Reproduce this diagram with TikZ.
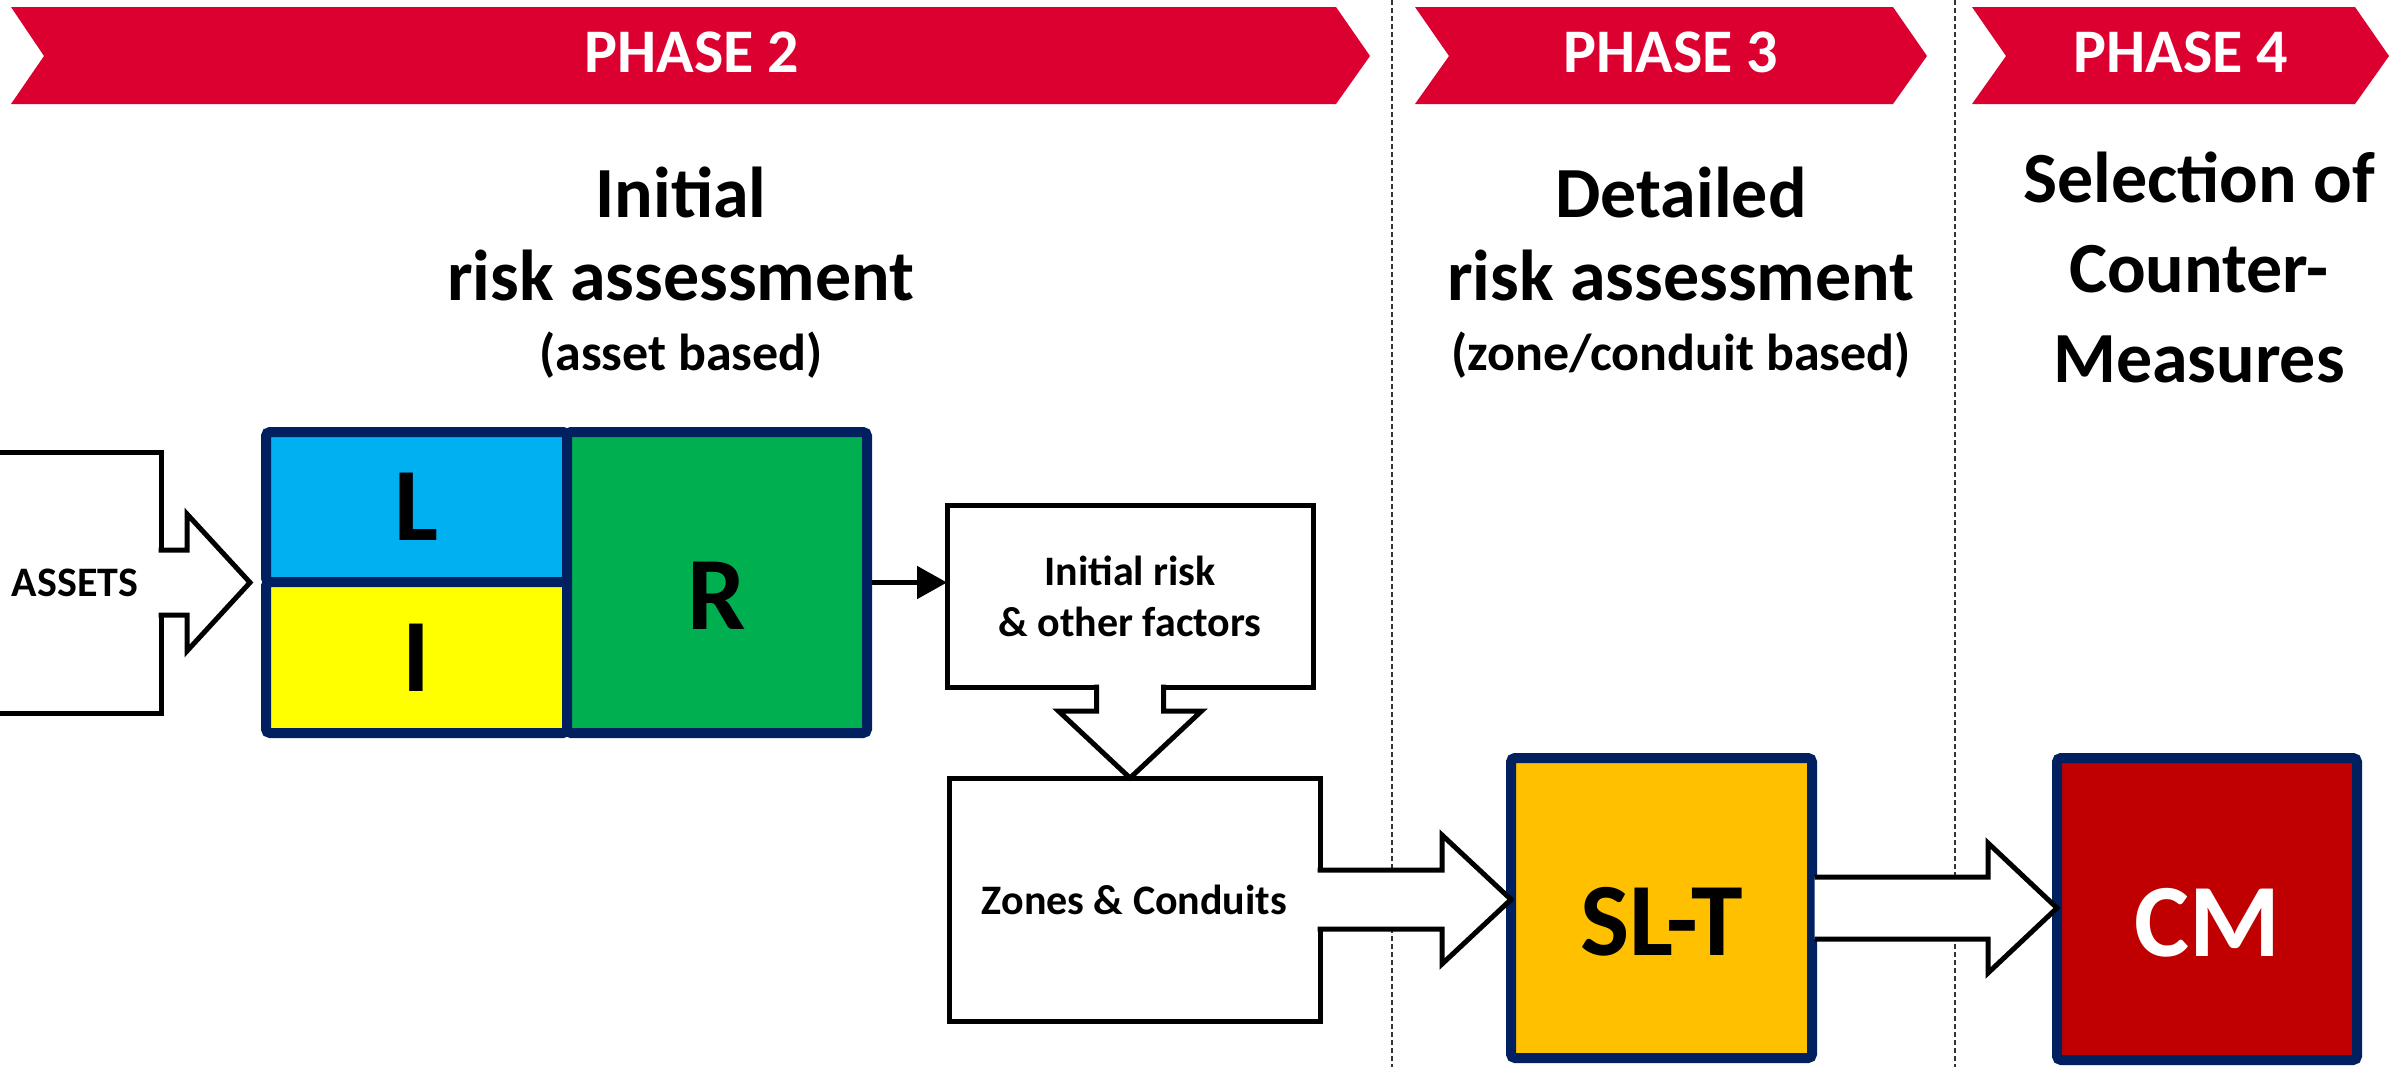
\documentclass[tikz,border=0pt]{standalone}
\usepackage{fontspec}
\setmainfont{Carlito}
\usetikzlibrary{calc,arrows.meta}
\definecolor{bannerred}{RGB}{220,0,48}
\definecolor{navyb}{RGB}{0,32,96}
\definecolor{lcyan}{RGB}{0,176,240}
\definecolor{lyell}{RGB}{255,255,0}
\definecolor{lgreen}{RGB}{0,176,80}
\definecolor{lorange}{RGB}{255,192,0}
\definecolor{ldred}{RGB}{192,0,0}
\newcommand\lblfnt{\fontsize{21}{25.5}\selectfont\bfseries}
\newcommand\bigfnt{\fontsize{52}{60}\selectfont\bfseries}
\newcommand\headfnt{\fontsize{36}{43}\selectfont\bfseries}
\newcommand\subfnt{\fontsize{26}{31}\selectfont\bfseries}
\newcommand\phasefnt{\fontsize{31}{37}\selectfont\bfseries}
\begin{document}
\begin{tikzpicture}[x=0.5pt,y=-0.5pt,
  banner/.style={fill=bannerred,draw=none},
  phasetext/.style={text=white,font=\phasefnt,anchor=base,inner sep=0pt},
  headtext/.style={font=\headfnt,anchor=base,inner sep=0pt},
  subtext/.style={font=\subfnt,anchor=base,inner sep=0pt},
  sepline/.style={draw=black!80,line width=0.6pt,dash pattern=on 2.5pt off 1.5pt},
  blockarrow/.style={fill=white,draw=black,line width=2.5pt,line join=miter,miter limit=10},
  wbox/.style={draw=black,fill=white,line width=2.5pt,inner sep=0pt,outer sep=0pt,font=\lblfnt,align=center},
  nbox/.style={draw=navyb,line width=5pt,rounded corners=2pt,inner sep=0pt,outer sep=0pt,font=\bigfnt},
  lowtext/.style={text height=47pt,text depth=0pt},
  thinarrow/.style={draw=black,line width=2.5pt,-{Triangle[length=15pt,width=16pt]}}
]
\useasboundingbox (0,0) rectangle (2394,1067);
\clip (0,0) rectangle (2394,1067);

% phase separators
\draw[sepline] (1392,0) -- (1392,1067);
\draw[sepline] (1955,0) -- (1955,1067);

% banners
\fill[banner] (11,7) -- (1336,7) -- (1370,56) -- (1336,104) -- (11,104) -- (44,56) -- cycle;
\fill[banner] (1415,7) -- (1893,7) -- (1927,56) -- (1893,104) -- (1415,104) -- (1449,56) -- cycle;
\fill[banner] (1972,7) -- (2355,7) -- (2389,56) -- (2355,104) -- (1972,104) -- (2006,56) -- cycle;
\node[phasetext] (p2) at (692,72) {PHASE 2};
\node[phasetext] (p3) at (1671,72) {PHASE 3};
\node[phasetext] (p4) at (2181,72) {PHASE 4};

% headings
\node[headtext] (h2a) at (681,217) {Initial};
\node[headtext] (h2b) at (681,300) {risk assessment};
\node[subtext]  (h2c) at (681,370) {(asset based)};
\node[headtext] (h3a) at (1681,217) {Detailed};
\node[headtext] (h3b) at (1681,300) {risk assessment};
\node[subtext]  (h3c) at (1681,370) {(zone/conduit based)};
\node[headtext] (h4a) at (2199,202) {Selection of};
\node[headtext] (h4b) at (2199,292) {Counter-};
\node[headtext] (h4c) at (2199,382) {Measures};

% assets callout
\node[wbox,minimum width=86pt,minimum height=130.5pt] (assets) at (75,582.5) {ASSETS};
\filldraw[blockarrow] ($(assets.east)+(-2.5,-32.5)$) -- ($(assets.east)+(26,-32.5)$)
  -- ($(assets.east)+(26,-68.5)$) -- ($(assets.east)+(89,0)$)
  -- ($(assets.east)+(26,68.5)$) -- ($(assets.east)+(26,32.5)$)
  -- ($(assets.east)+(-2.5,32.5)$);

% L I R block
\node[nbox,fill=lcyan,minimum width=150.5pt,minimum height=75pt] (L) at (416.5,507) {L};
\node[nbox,fill=lyell,minimum width=150.5pt,minimum height=75.5pt] (I) at (416.5,657.5) {I};
\node[nbox,fill=lgreen,minimum width=150pt,minimum height=150.5pt,lowtext] (R) at (717,582.5) {R};

% initial risk box with down arrow
\node[wbox,minimum width=183pt,minimum height=91pt] (irf) at (1130,596) {Initial risk\\[0pt]\& other factors};
\draw[thinarrow] ($(R.east)+(5,0)$) -- (R.east -| irf.west);

\node[wbox,minimum width=185.5pt,minimum height=121.5pt] (zones) at (1134.5,899.5) {Zones \& Conduits};
\coordinate (dt) at (irf.south |- zones.north);
\filldraw[blockarrow] ($(irf.south)+(-33.5,-2.5)$) -- ($(irf.south)+(-33.5,24)$)
  -- ($(irf.south)+(-71.5,24)$) -- (dt)
  -- ($(irf.south)+(71.5,24)$) -- ($(irf.south)+(33.5,24)$)
  -- ($(irf.south)+(33.5,-2.5)$);

% SL-T and CM
\node[nbox,fill=lorange,minimum width=150.5pt,minimum height=150pt,lowtext] (slt) at (1661.5,908) {SL-T};
\node[nbox,fill=ldred,text=white,minimum width=150pt,minimum height=151pt,lowtext] (cm) at (2207,909) {CM};

% zones -> SL-T block arrow
\coordinate (zt) at (slt.west |- zones.east);
\filldraw[blockarrow] ($(zones.east)+(-2.5,-29.5)$) -- ($(zt)+(-69,-29.5)$)
  -- ($(zt)+(-69,-64.5)$) -- (zt) -- ($(zt)+(-69,64.5)$)
  -- ($(zt)+(-69,29.5)$) -- ($(zones.east)+(-2.5,29.5)$);

% SL-T -> CM block arrow
\coordinate (ct) at (cm.west |- slt.east);
\filldraw[blockarrow] ($(slt.east)+(2.5,-31)$) -- ($(ct)+(-69,-31)$)
  -- ($(ct)+(-69,-65)$) -- (ct) -- ($(ct)+(-69,65)$)
  -- ($(ct)+(-69,31)$) -- ($(slt.east)+(2.5,31)$);
\end{tikzpicture}
\end{document}
